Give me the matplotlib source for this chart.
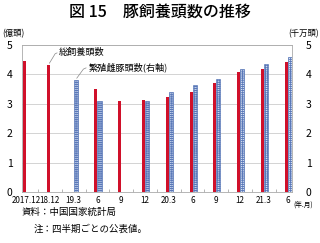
import matplotlib
matplotlib.use("Agg")
import matplotlib.pyplot as plt
import numpy as np

plt.rcParams['font.family'] = ['Noto Sans CJK JP', 'DejaVu Sans']
plt.rcParams['hatch.linewidth'] = 0.6
plt.rcParams['hatch.color'] = '#5a78b8'

# 期間ラベル(年.月)
labels = ["2017.12", "18.12", "19.3", "6", "9", "12", "20.3", "6", "9", "12", "21.3", "6"]
# 総飼養頭数(億頭), 左軸
total = [4.44, 4.31, np.nan, 3.49, 3.08, 3.13, 3.22, 3.41, 3.72, 4.08, 4.19, 4.42]
# 繁殖雌豚頭数(千万頭), 右軸
sows = [np.nan, np.nan, 3.81, 3.09, np.nan, 3.09, 3.39, 3.64, 3.83, 4.19, 4.35, 4.60]

x = np.arange(len(labels))

fig = plt.figure(figsize=(3.2, 2.43), dpi=100)
ax = fig.add_axes([0.069, 0.21, 0.8435, 0.605])

ax.bar(x - 0.065, total, width=0.13, color='#d0102a', zorder=3)
ax.bar(x + 0.085, sows, width=0.17, color='#dbe6f6', edgecolor='#5a78b8',
       linewidth=0.5, hatch='++++++++', zorder=3)

ax.set_yticks(range(6))
ax.set_xticks(x)
ax.set_xticklabels(labels, fontsize=5.8)
ax.set_xticks(np.arange(-0.5, 11.5, 0.5)[1:], minor=True)
# 目盛の設定後に範囲を固定(set_xticksが範囲を広げるため)
ax.set_xlim(-0.17, 11.18)
ax.set_ylim(0, 5)
ax.tick_params(axis='x', which='major', length=0, pad=3)
ax.tick_params(axis='x', which='minor', length=2, direction='in', color='#aaaaaa')
ax.tick_params(axis='y', length=0, labelsize=7.5, pad=7)
ax.grid(axis='y', color='#cccccc', linewidth=0.6, zorder=0)
for s in ax.spines.values():
    s.set_color('#aaaaaa')
    s.set_linewidth(0.6)

ax2 = ax.twinx()
ax2.set_ylim(0, 5)
ax2.set_yticks(range(6))
ax2.tick_params(axis='y', length=0, labelsize=7.5, pad=10)
for s in ax2.spines.values():
    s.set_visible(False)

# 注記と引き出し線
ax.plot([0.98, 1.22, 1.3], [4.38, 4.7, 4.73], color='#888888', lw=0.5, zorder=4)
ax.text(1.38, 4.73, "総飼養頭数", fontsize=6.6, va='center')
ax.plot([2.13, 2.41, 2.52], [3.87, 4.18, 4.22], color='#888888', lw=0.5, zorder=4)
ax.text(2.64, 4.24, "繁殖雌豚頭数(右軸)", fontsize=6.6, va='center')

fig.text(0.5, 0.95, "図 15　豚飼養頭数の推移", ha='center', va='center',
         fontsize=11.5, weight='medium')
fig.text(0.008, 0.862, "(億頭)", fontsize=6, va='center')
fig.text(0.995, 0.862, "(千万頭)", fontsize=6, va='center', ha='right')
fig.text(0.916, 0.158, "(年.月)", fontsize=4.8, va='center')
fig.text(0.069, 0.125, "資料：中国国家統計局", fontsize=6.8, va='center')
fig.text(0.105, 0.057, "注：四半期ごとの公表値。", fontsize=6.8, va='center')

fig.savefig("out.png", dpi=100)
